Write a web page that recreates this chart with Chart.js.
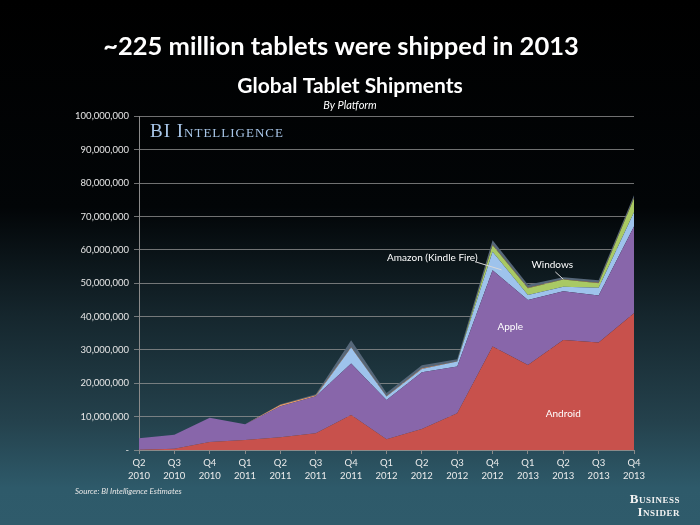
<!DOCTYPE html>
<html>
<head>
<meta charset="utf-8">
<script src="https://cdn.jsdelivr.net/npm/chart.js@4.4.1/dist/chart.umd.min.js"></script>
<style>
  html, body { margin: 0; padding: 0; background: #000; }
  #wrap { position: relative; width: 700px; height: 525px; }
</style>
</head>
<body>
<div id="wrap"><canvas id="chart"></canvas></div>
<script>
// quarters on the x axis (two-line labels)
const quarters = [
  ["Q2", "2010"], ["Q3", "2010"], ["Q4", "2010"],
  ["Q1", "2011"], ["Q2", "2011"], ["Q3", "2011"], ["Q4", "2011"],
  ["Q1", "2012"], ["Q2", "2012"], ["Q3", "2012"], ["Q4", "2012"],
  ["Q1", "2013"], ["Q2", "2013"], ["Q3", "2013"], ["Q4", "2013"]
];

// shipments per platform, in millions of units
const android    = [0.1, 0.4, 2.4, 3.0, 3.8, 5.0, 10.5, 3.2, 6.3, 11.0, 31.0, 25.5, 33.0, 32.2, 41.0];
const apple      = [3.4, 4.2, 7.3, 4.7, 9.3, 11.1, 15.4, 11.8, 17.0, 14.0, 22.9, 19.5, 14.6, 14.1, 26.0];
const amazon     = [0, 0, 0, 0, 0, 0, 4.8, 1.0, 1.0, 1.5, 5.5, 1.5, 1.3, 2.3, 4.3];
const windows    = [0, 0, 0, 0, 0, 0, 0, 0, 0, 0, 2.0, 2.0, 2.2, 1.4, 4.2];
const blackberry = [0, 0, 0, 0, 0.5, 0.3, 0.2, 0.2, 0.2, 0.1, 0.1, 0.1, 0.1, 0.1, 0.1];
const other      = [0, 0, 0, 0, 0.1, 0.3, 2.0, 0.9, 0.9, 0.6, 1.4, 0.9, 0.6, 0.8, 0.8];

const yTicks = [0, 10, 20, 30, 40, 50, 60, 70, 80, 90, 100];

const FONT = "Lato, 'Open Sans', sans-serif";

// slide background: black at the top fading into dark teal
const slideBackground = {
  id: "slideBackground",
  beforeDraw(chart) {
    const { ctx, width, height } = chart;
    const g = ctx.createLinearGradient(0, 0, 0, height);
    g.addColorStop(0, "#000000");
    g.addColorStop(0.395, "#020507");
    g.addColorStop(0.6, "#15262d");
    g.addColorStop(0.8, "#24414c");
    g.addColorStop(0.93, "#2e5a6a");
    g.addColorStop(1, "#2f5b6b");
    ctx.save();
    ctx.fillStyle = g;
    ctx.fillRect(0, 0, width, height);
    ctx.restore();
  }
};

// headline, watermark, series labels, source and logo
const slideText = {
  id: "slideText",
  afterDatasetsDraw(chart) {
    const { ctx, chartArea } = chart;
    const x = chart.scales.x, y = chart.scales.y;
    ctx.save();

    ctx.fillStyle = "#ffffff";
    ctx.textAlign = "center";
    ctx.textBaseline = "alphabetic";
    ctx.font = "bold 25.5px " + FONT;
    ctx.fillText("~225 million tablets were shipped in 2013", 341, 55);

    ctx.fillStyle = "#a9c7e9";
    ctx.textAlign = "left";
    ctx.textBaseline = "middle";
    ctx.letterSpacing = "1px";
    ctx.font = "small-caps 19px 'Liberation Serif', serif";
    ctx.fillText("BI Intelligence", chartArea.left + 11, chartArea.top + 16);
    ctx.letterSpacing = "0px";

    ctx.fillStyle = "#ffffff";
    ctx.font = "10px " + FONT;
    ctx.textAlign = "center";
    ctx.fillText("Apple", (x.getPixelForValue(10) + x.getPixelForValue(11)) / 2, y.getPixelForValue(37));
    ctx.fillText("Android", x.getPixelForValue(12), y.getPixelForValue(11));
    ctx.fillText("Windows", x.getPixelForValue(12) - 11, y.getPixelForValue(55.6));
    ctx.textAlign = "right";
    ctx.fillText("Amazon (Kindle Fire)", x.getPixelForValue(10) - 15, y.getPixelForValue(57.6));

    ctx.strokeStyle = "#d8d8d8";
    ctx.lineWidth = 1;
    ctx.beginPath();
    ctx.moveTo(x.getPixelForValue(10) - 17, y.getPixelForValue(56.4));
    ctx.lineTo(x.getPixelForValue(10) + 9, y.getPixelForValue(54.0));
    ctx.moveTo(x.getPixelForValue(12) - 8, y.getPixelForValue(53.4));
    ctx.lineTo(x.getPixelForValue(12), y.getPixelForValue(51.2));
    ctx.stroke();

    ctx.fillStyle = "#e6e6e6";
    ctx.textAlign = "left";
    ctx.font = "italic 8px " + FONT;
    ctx.fillText("Source: BI Intelligence Estimates", 75, 491);

    ctx.fillStyle = "#f2f2f2";
    ctx.textAlign = "right";
    ctx.textBaseline = "alphabetic";
    ctx.letterSpacing = "0.5px";
    ctx.font = "small-caps bold 13px 'Liberation Serif', serif";
    ctx.fillText("Business", 680, 503);
    ctx.fillText("Insider", 680, 516);

    ctx.restore();
  }
};

function area(label, data, color) {
  return {
    label: label,
    data: data,
    backgroundColor: color,
    borderColor: color,
    borderWidth: 0,
    pointRadius: 0,
    tension: 0,
    fill: label === "Android" ? "origin" : "-1"
  };
}

const ctx = document.getElementById("chart");

new Chart(ctx, {
  type: "line",
  data: {
    labels: quarters,
    datasets: [
      area("Android", android, "#c8514c"),
      area("Apple", apple, "#8866aa"),
      area("Amazon (Kindle Fire)", amazon, "#9ec3ec"),
      area("Windows", windows, "#a9c964"),
      area("BlackBerry", blackberry, "#e69a6a"),
      area("Other", other, "#566779")
    ]
  },
  options: {
    responsive: true,
    maintainAspectRatio: false,
    animation: false,
    layout: { padding: 0 },
    plugins: {
      legend: { display: false },
      tooltip: { enabled: false },
      title: {
        display: true,
        text: "Global Tablet Shipments",
        color: "#ffffff",
        font: { family: FONT, size: 21, weight: "bold", lineHeight: 1.2 },
        padding: { top: 74, bottom: 0 }
      },
      subtitle: {
        display: true,
        text: "By Platform",
        color: "#ffffff",
        font: { family: FONT, size: 11, style: "italic", lineHeight: 1.2 },
        padding: { top: 0, bottom: 4 }
      }
    },
    scales: {
      x: {
        offset: false,
        grid: { drawOnChartArea: false, drawTicks: true, tickLength: 4, color: "#8a8a8a" },
        border: { display: true, color: "#8a8a8a" },
        ticks: {
          color: "#ececec",
          font: { family: FONT, size: 9.5, lineHeight: 1.3 },
          maxRotation: 0,
          autoSkip: false,
          padding: 3
        },
        afterFit: (s) => { s.height = 75; }
      },
      y: {
        stacked: true,
        min: 0,
        max: 100,
        afterBuildTicks: (s) => { s.ticks = yTicks.map((v) => ({ value: v })); },
        grid: { color: "rgba(150,150,150,0.75)", tickLength: 5 },
        border: { display: true, color: "#8a8a8a" },
        ticks: {
          color: "#e6e6e6",
          font: { family: FONT, size: 9.5 },
          padding: 5,
          callback: (v) => (v === 0 ? "-" : (v * 1000000).toLocaleString("en-US"))
        },
        afterFit: (s) => { s.width = 139; }
      },
      pad: {
        type: "linear",
        position: "right",
        grid: { display: false },
        border: { display: false },
        ticks: { display: false },
        afterFit: (s) => { s.width = 66; }
      }
    }
  },
  plugins: [slideBackground, slideText]
});
</script>
</body>
</html>
